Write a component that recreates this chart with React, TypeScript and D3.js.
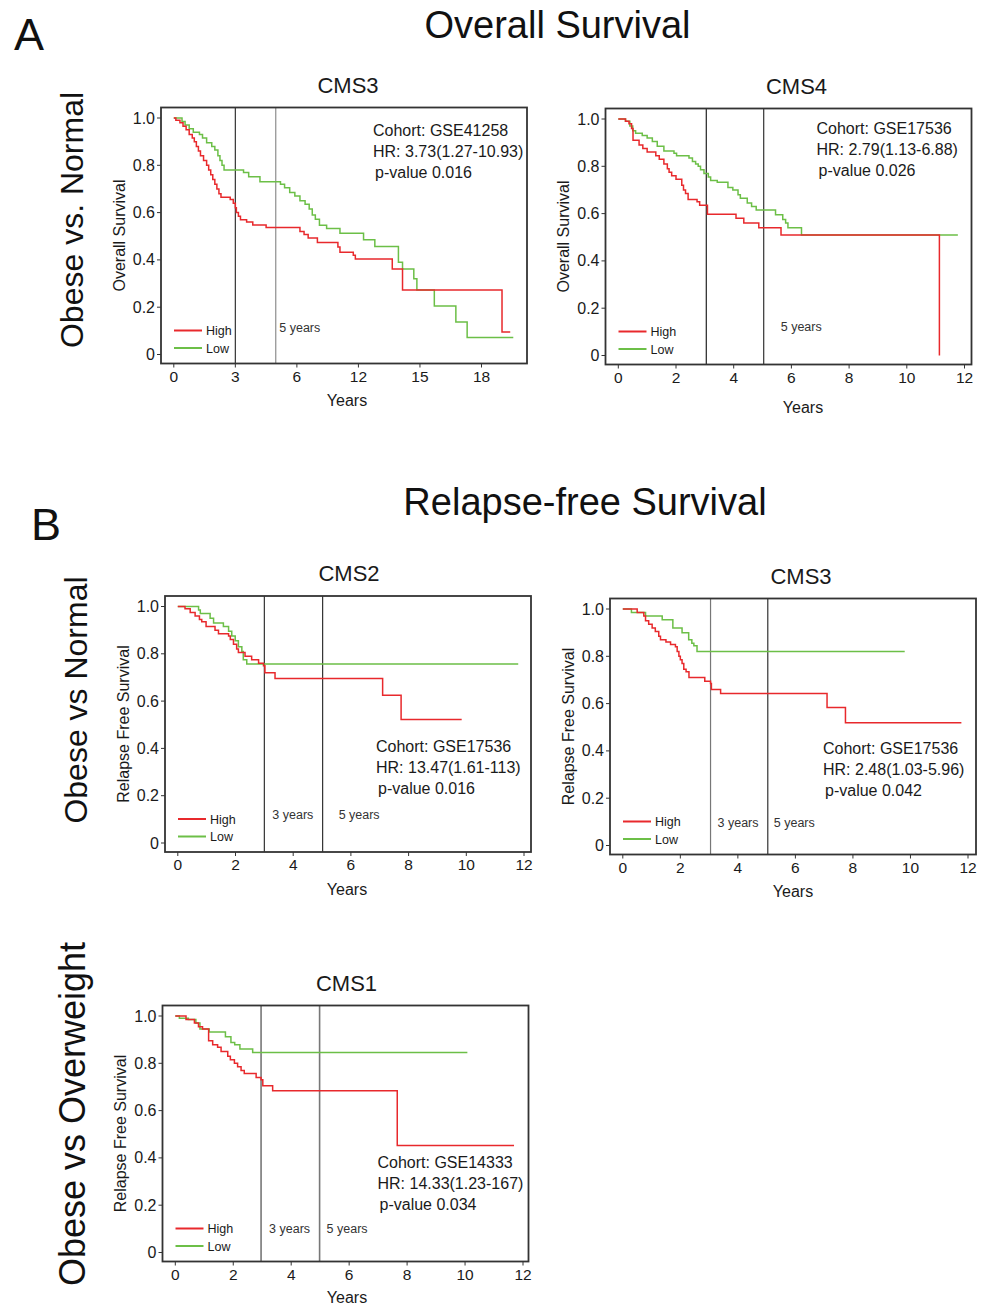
import * as d3 from 'd3';

const width = 987;
const height = 1306;
const font = "'Liberation Sans', Arial, sans-serif";

// colours
const red = '#e8292c';
const green = '#6cbf47';

// axis ticks
const yTicks = [0, 0.2, 0.4, 0.6, 0.8, 1.0];
const yTickLabels = ['0', '0.2', '0.4', '0.6', '0.8', '1.0'];
const osCms3Ticks = [0, 3, 6, 9, 12, 15];
const osCms3TickLabels = ['0', '3', '6', '12', '15', '18']; // as printed in the figure
const yearTicks = [0, 2, 4, 6, 8, 10, 12];
const yearTickLabels = ['0', '2', '4', '6', '8', '10', '12'];

// Kaplan-Meier steps [years, survival]
const osCms3High = [[0, 1.0], [0.1, 0.99], [0.3, 0.98], [0.45, 0.965], [0.6, 0.95], [0.75, 0.93], [0.9, 0.915], [1.0, 0.9], [1.1, 0.88], [1.2, 0.86], [1.3, 0.84], [1.45, 0.82], [1.6, 0.8], [1.7, 0.78], [1.8, 0.76], [1.9, 0.74], [2.0, 0.72], [2.1, 0.7], [2.2, 0.68], [2.3, 0.665], [2.75, 0.655], [2.9, 0.64], [3.0, 0.62], [3.05, 0.6], [3.15, 0.585], [3.25, 0.57], [3.55, 0.56], [3.85, 0.548], [4.5, 0.537], [6.15, 0.52], [6.35, 0.507], [6.55, 0.493], [7.0, 0.474], [8.0, 0.455], [8.1, 0.432], [8.75, 0.42], [8.85, 0.404], [10.65, 0.362], [11.15, 0.273], [16.0, 0.095], [16.4, 0.095]];
const osCms3Low = [[0, 1.0], [0.4, 0.985], [0.55, 0.97], [0.75, 0.955], [0.95, 0.94], [1.25, 0.93], [1.4, 0.915], [1.6, 0.895], [1.85, 0.88], [2.0, 0.865], [2.15, 0.84], [2.25, 0.82], [2.35, 0.8], [2.45, 0.78], [3.4, 0.77], [3.65, 0.752], [4.2, 0.73], [5.2, 0.72], [5.4, 0.705], [5.65, 0.685], [5.9, 0.67], [6.15, 0.65], [6.4, 0.635], [6.6, 0.615], [6.75, 0.59], [6.9, 0.572], [7.1, 0.547], [7.45, 0.533], [8.1, 0.513], [9.25, 0.485], [9.8, 0.457], [10.95, 0.39], [11.15, 0.362], [11.7, 0.32], [11.85, 0.273], [12.7, 0.205], [13.75, 0.137], [14.3, 0.072], [16.55, 0.072]];

const osCms4High = [[0, 1.0], [0.25, 0.99], [0.37, 0.98], [0.46, 0.96], [0.51, 0.91], [0.72, 0.89], [0.85, 0.875], [1.0, 0.86], [1.3, 0.845], [1.42, 0.83], [1.58, 0.81], [1.7, 0.79], [1.76, 0.775], [1.85, 0.76], [2.0, 0.745], [2.2, 0.72], [2.26, 0.7], [2.33, 0.685], [2.42, 0.66], [2.73, 0.65], [2.82, 0.635], [3.09, 0.597], [4.08, 0.58], [4.35, 0.56], [4.87, 0.54], [5.64, 0.51], [11.13, 0.0]];
const osCms4Low = [[0, 1.0], [0.25, 0.99], [0.4, 0.97], [0.5, 0.95], [0.6, 0.94], [0.83, 0.93], [1.0, 0.92], [1.18, 0.905], [1.35, 0.885], [1.58, 0.865], [1.93, 0.855], [2.02, 0.845], [2.45, 0.835], [2.57, 0.82], [2.68, 0.81], [2.77, 0.8], [2.85, 0.785], [2.97, 0.77], [3.12, 0.755], [3.2, 0.74], [3.43, 0.733], [3.8, 0.71], [3.97, 0.7], [4.15, 0.68], [4.23, 0.665], [4.47, 0.645], [4.62, 0.63], [4.78, 0.615], [5.45, 0.595], [5.7, 0.575], [5.8, 0.56], [5.88, 0.54], [6.35, 0.51], [11.77, 0.51]];

const rfsCms2High = [[0, 1.0], [0.25, 0.99], [0.43, 0.975], [0.6, 0.96], [0.75, 0.945], [0.83, 0.935], [0.98, 0.915], [1.29, 0.9], [1.41, 0.885], [1.76, 0.875], [1.82, 0.86], [1.93, 0.84], [2.04, 0.82], [2.1, 0.805], [2.33, 0.79], [2.56, 0.775], [2.8, 0.76], [2.97, 0.75], [3.02, 0.72], [3.37, 0.696], [7.1, 0.625], [7.74, 0.522], [9.84, 0.522]];
const rfsCms2Low = [[0, 1.0], [0.72, 0.985], [0.78, 0.97], [1.12, 0.95], [1.24, 0.93], [1.58, 0.915], [1.76, 0.895], [1.87, 0.875], [1.99, 0.855], [2.1, 0.83], [2.22, 0.81], [2.27, 0.775], [2.39, 0.757], [11.8, 0.757]];

const rfsCms3High = [[0, 1.0], [0.5, 0.985], [0.73, 0.97], [0.79, 0.95], [0.9, 0.935], [1.02, 0.92], [1.13, 0.905], [1.25, 0.885], [1.31, 0.87], [1.5, 0.86], [1.66, 0.85], [1.83, 0.84], [1.89, 0.82], [1.95, 0.8], [2.0, 0.785], [2.06, 0.77], [2.12, 0.745], [2.2, 0.735], [2.3, 0.71], [2.85, 0.695], [3.05, 0.685], [3.08, 0.66], [3.4, 0.643], [7.1, 0.583], [7.74, 0.519], [11.77, 0.519]];
const rfsCms3Low = [[0, 1.0], [0.3, 0.985], [0.79, 0.97], [1.37, 0.955], [1.74, 0.92], [2.06, 0.9], [2.29, 0.87], [2.4, 0.855], [2.47, 0.845], [2.58, 0.82], [9.8, 0.82]];

const rfsCms1High = [[0, 1.0], [0.37, 0.985], [0.66, 0.97], [0.8, 0.955], [0.94, 0.945], [1.15, 0.895], [1.29, 0.878], [1.46, 0.868], [1.58, 0.85], [1.81, 0.83], [1.9, 0.815], [2.04, 0.8], [2.15, 0.785], [2.27, 0.77], [2.38, 0.757], [2.79, 0.74], [2.96, 0.73], [3.02, 0.705], [3.36, 0.684], [7.66, 0.452], [11.69, 0.452]];
const rfsCms1Low = [[0, 1.0], [0.14, 0.99], [0.45, 0.985], [0.71, 0.97], [0.85, 0.945], [1.17, 0.932], [1.73, 0.912], [1.92, 0.888], [2.05, 0.878], [2.23, 0.86], [2.67, 0.846], [10.08, 0.846]];

// layout of each panel box
const boxW = 366;
const boxH = 256;

const panels = [
  {
    title: 'CMS3', left: 161, top: 107.5, titleDx: 4, yearsDx: 3, yearsDy: 42,
    ticks: osCms3Ticks, tickLabels: osCms3TickLabels, xEnd: 320.5,
    yLabel: 'Overall Survival', high: osCms3High, low: osCms3Low,
    markers: [3, 4.97], markerColors: ['#333', '#8e8e8e'], markerW: 1.2,
    yearText: [{ at: 4.97, text: '5 years', dx: 3.5 }], yearDy: -32,
    notes: ['Cohort: GSE41258', 'HR: 3.73(1.27-10.93)', 'p-value 0.016'], noteDy: 28, noteDx: 212,
  },
  {
    title: 'CMS4', left: 605.5, top: 108.5, titleDx: 8, yearsDx: 14.5, yearsDy: 48,
    ticks: yearTicks, tickLabels: yearTickLabels, xEnd: 359,
    yLabel: 'Overall Survival', high: osCms4High, low: osCms4Low,
    markers: [3.05, 5.04], markerColors: ['#222', '#333'], markerW: 1.2,
    yearText: [{ at: 5.04, text: '5 years', dx: 17 }], yearDy: -34,
    notes: ['Cohort: GSE17536', 'HR: 2.79(1.13-6.88)', 'p-value 0.026'], noteDy: 25, noteDx: 211,
  },
  {
    title: 'CMS2', left: 165, top: 596, titleDx: 1, yearsDx: -1, yearsDy: 43,
    ticks: yearTicks, tickLabels: yearTickLabels, xEnd: 359,
    yLabel: 'Relapse Free Survival', high: rfsCms2High, low: rfsCms2Low,
    markers: [3.0, 5.02], markerColors: ['#333', '#333'], markerW: 1.2,
    yearText: [{ at: 3.0, text: '3 years', dx: 8 }, { at: 5.02, text: '5 years', dx: 16 }], yearDy: -33,
    notes: ['Cohort: GSE17536', 'HR: 13.47(1.61-113)', 'p-value 0.016'], noteDy: 156, noteDx: 211,
  },
  {
    title: 'CMS3', left: 610, top: 598.5, titleDx: 8, yearsDx: 0, yearsDy: 42,
    ticks: yearTicks, tickLabels: yearTickLabels, xEnd: 358,
    yLabel: 'Relapse Free Survival', high: rfsCms3High, low: rfsCms3Low,
    markers: [3.05, 5.04], markerColors: ['#777', '#333'], markerW: 1.2,
    yearText: [{ at: 3.05, text: '3 years', dx: 7 }, { at: 5.04, text: '5 years', dx: 6 }], yearDy: -28,
    notes: ['Cohort: GSE17536', 'HR: 2.48(1.03-5.96)', 'p-value 0.042'], noteDy: 155, noteDx: 213,
  },
  {
    title: 'CMS1', left: 162.5, top: 1005.5, titleDx: 1, yearsDx: 1.5, yearsDy: 41.5,
    ticks: yearTicks, tickLabels: yearTickLabels, xEnd: 360.5,
    yLabel: 'Relapse Free Survival', high: rfsCms1High, low: rfsCms1Low,
    markers: [2.96, 4.98], markerColors: ['#777', '#777'], markerW: 1.6,
    yearText: [{ at: 2.96, text: '3 years', dx: 8 }, { at: 4.98, text: '5 years', dx: 7 }], yearDy: -28.5,
    notes: ['Cohort: GSE14333', 'HR: 14.33(1.23-167)', 'p-value 0.034'], noteDy: 162, noteDx: 215,
  },
];

const Panel = ({ p }: { p: any }) => {
  const maxTick = p.ticks[p.ticks.length - 1];
  const x = d3.scaleLinear().domain([0, maxTick]).range([12.8, p.xEnd]);
  const y = d3.scaleLinear().domain([0, 1]).range([247, 10.5]);
  const line = d3.line<number[]>()
    .x((d) => x(d[0]))
    .y((d) => y(d[1]))
    .curve(d3.curveStepAfter);

  return (
    <g transform={`translate(${p.left},${p.top})`} fontFamily={font} fill="#1a1a1a">
      <text x={boxW / 2 + p.titleDx} y={-15} fontSize={22} textAnchor="middle">{p.title}</text>

      {/* marker lines */}
      {p.markers.map((m: number, i: number) => (
        <line key={i} x1={x(m)} x2={x(m)} y1={0} y2={boxH} stroke={p.markerColors[i]} strokeWidth={p.markerW} />
      ))}

      {/* curves */}
      <path d={line(p.low) || ''} fill="none" stroke={green} strokeWidth={1.5} />
      <path d={line(p.high) || ''} fill="none" stroke={red} strokeWidth={1.5} />

      {/* frame */}
      <rect x={0} y={0} width={boxW} height={boxH} fill="none" stroke="#333" strokeWidth={1.8} />

      {/* y axis */}
      {yTicks.map((t, i) => (
        <g key={i}>
          <line x1={-4} x2={0} y1={y(t)} y2={y(t)} stroke="#333" strokeWidth={1} />
          <text x={-6} y={y(t) + 5.5} fontSize={16} textAnchor="end">{yTickLabels[i]}</text>
        </g>
      ))}
      <text transform={`translate(-36.5,${boxH / 2}) rotate(-90)`} fontSize={16} textAnchor="middle">{p.yLabel}</text>

      {/* x axis */}
      {p.ticks.map((t: number, i: number) => (
        <g key={i}>
          <line x1={x(t)} x2={x(t)} y1={boxH} y2={boxH + 4} stroke="#333" strokeWidth={1} />
          <text x={x(t)} y={boxH + 18} fontSize={15.5} textAnchor="middle">{p.tickLabels[i]}</text>
        </g>
      ))}
      <text x={boxW / 2 + p.yearsDx} y={boxH + p.yearsDy} fontSize={16} textAnchor="middle">Years</text>

      {/* year labels */}
      {p.yearText.map((yt: any, i: number) => (
        <text key={i} x={x(yt.at) + yt.dx} y={boxH + p.yearDy} fontSize={12.5} fill="#333">{yt.text}</text>
      ))}

      {/* legend */}
      <line x1={13} x2={41} y1={boxH - 33} y2={boxH - 33} stroke={red} strokeWidth={2} />
      <text x={45} y={boxH - 28.5} fontSize={12.5}>High</text>
      <line x1={13} x2={41} y1={boxH - 15.5} y2={boxH - 15.5} stroke={green} strokeWidth={2} />
      <text x={45} y={boxH - 11} fontSize={12.5}>Low</text>

      {/* cohort notes */}
      {p.notes.map((n: string, i: number) => (
        <text key={i} x={p.noteDx + (i === 2 ? 2 : 0)} y={p.noteDy + i * 21} fontSize={16}>{n}</text>
      ))}
    </g>
  );
};

const App = () => {
  return (
    <svg width={width} height={height} style={{ position: 'absolute', left: 0, top: 0, background: '#fff' }}>
      <rect width={width} height={height} fill="#fff" />
      <g fontFamily={font} fill="#111">
        <text x={14} y={50} fontSize={45}>A</text>
        <text x={557.5} y={38} fontSize={38} textAnchor="middle">Overall Survival</text>
        <text x={31} y={540} fontSize={45}>B</text>
        <text x={585} y={515} fontSize={38} textAnchor="middle">Relapse-free Survival</text>
        <text transform="translate(83,220) rotate(-90)" fontSize={32} textAnchor="middle">Obese vs. Normal</text>
        <text transform="translate(87,700) rotate(-90)" fontSize={32} textAnchor="middle">Obese vs Normal</text>
        <text transform="translate(85,1114) rotate(-90)" fontSize={36} textAnchor="middle">Obese vs Overweight</text>
      </g>
      {panels.map((p, i) => (
        <Panel key={i} p={p} />
      ))}
    </svg>
  );
};

export default App;
